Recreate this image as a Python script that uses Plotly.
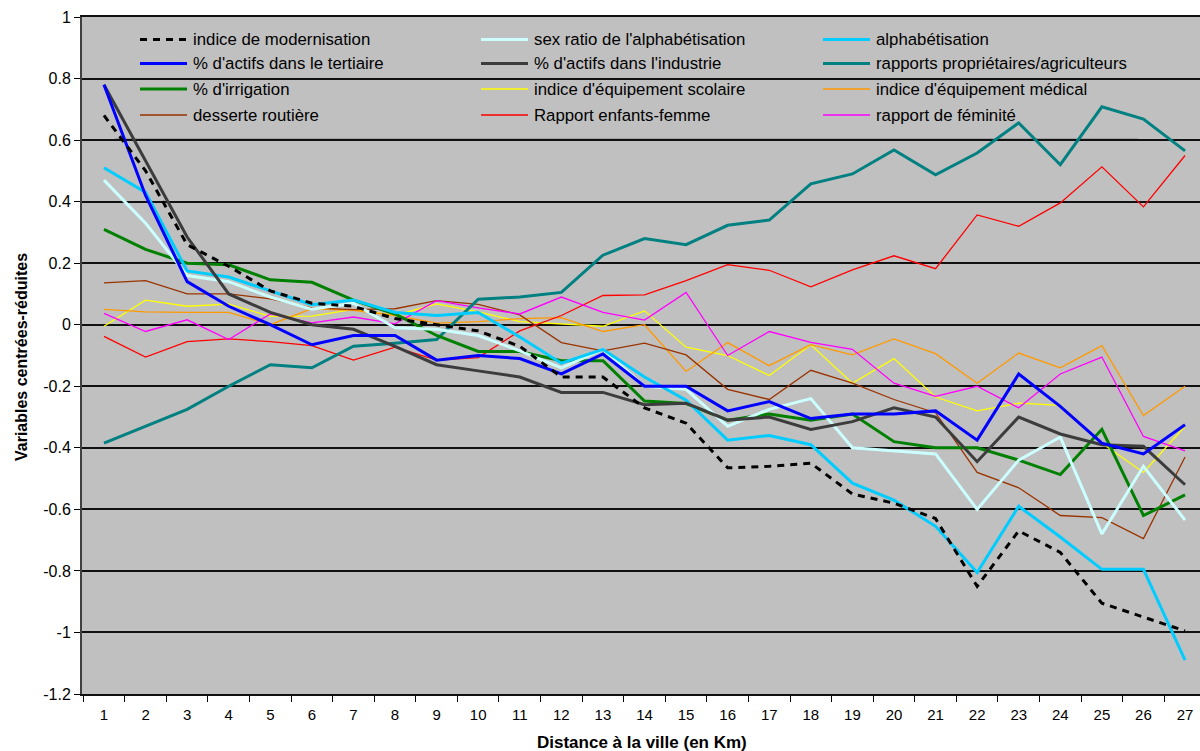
import plotly.graph_objects as go

# ---------------- data ----------------
distances = ["1", "2", "3", "4", "5", "6", "7", "8", "9", "10", "11", "12", "13", "14",
             "15", "16", "17", "18", "19", "20", "21", "22", "23", "24", "25", "26", "27"]

y_tick_values = [1, 0.8, 0.6, 0.4, 0.2, 0, -0.2, -0.4, -0.6, -0.8, -1, -1.2]
y_tick_labels = ["1", "0.8", "0.6", "0.4", "0.2", "0", "-0.2", "-0.4", "-0.6", "-0.8", "-1", "-1.2"]

modernisation = [0.68, 0.50, 0.26, 0.19, 0.11, 0.07, 0.06, 0.02, 0.0, -0.02, -0.07, -0.17, -0.17, -0.27,
                 -0.32, -0.465, -0.46, -0.45, -0.55, -0.58, -0.63, -0.85, -0.67, -0.74, -0.905, -0.95, -0.995]
sex_ratio_alpha = [0.47, 0.33, 0.16, 0.14, 0.09, 0.05, 0.07, -0.01, -0.015, -0.035, -0.085, -0.14, -0.08, -0.20,
                   -0.21, -0.33, -0.275, -0.24, -0.40, -0.41, -0.42, -0.60, -0.44, -0.365, -0.68, -0.46, -0.635]
alphabetisation = [0.51, 0.43, 0.175, 0.155, 0.11, 0.065, 0.08, 0.04, 0.03, 0.04, -0.04, -0.125, -0.08, -0.17,
                   -0.245, -0.375, -0.36, -0.39, -0.515, -0.57, -0.655, -0.805, -0.59, -0.69, -0.795, -0.795, -1.09]
tertiaire = [0.78, 0.42, 0.14, 0.06, 0.0, -0.065, -0.035, -0.035, -0.115, -0.10, -0.11, -0.16, -0.095, -0.20,
             -0.20, -0.28, -0.25, -0.305, -0.29, -0.29, -0.28, -0.375, -0.16, -0.265, -0.385, -0.42, -0.325]
industrie = [0.78, 0.53, 0.285, 0.10, 0.04, 0.0, -0.015, -0.07, -0.13, -0.15, -0.17, -0.22, -0.22, -0.26,
             -0.255, -0.31, -0.30, -0.34, -0.315, -0.27, -0.30, -0.445, -0.30, -0.355, -0.39, -0.395, -0.52]
proprietaires = [-0.385, -0.33, -0.275, -0.20, -0.13, -0.14, -0.07, -0.06, -0.048, 0.083, 0.09, 0.105, 0.226, 0.28,
                 0.26, 0.323, 0.34, 0.458, 0.49, 0.568, 0.487, 0.558, 0.656, 0.52, 0.708, 0.668, 0.565]
irrigation = [0.31, 0.245, 0.20, 0.195, 0.146, 0.138, 0.08, 0.035, -0.035, -0.087, -0.087, -0.117, -0.117, -0.248,
              -0.256, -0.31, -0.29, -0.31, -0.29, -0.38, -0.40, -0.40, -0.44, -0.487, -0.34, -0.62, -0.553]
scolaire = [-0.005, 0.08, 0.06, 0.067, 0.027, 0.028, 0.05, 0.03, 0.068, 0.042, 0.01, 0.003, -0.005, 0.045,
            -0.073, -0.10, -0.165, -0.065, -0.19, -0.11, -0.235, -0.28, -0.255, -0.262, -0.385, -0.48, -0.33]
medical = [0.05, 0.042, 0.04, 0.04, 0.0, 0.052, 0.047, 0.03, 0.005, 0.01, 0.02, 0.023, -0.022, 0.0,
           -0.152, -0.058, -0.133, -0.065, -0.098, -0.046, -0.094, -0.19, -0.092, -0.14, -0.068, -0.295, -0.20]
desserte = [0.136, 0.143, 0.10, 0.10, 0.084, 0.055, 0.049, 0.052, 0.078, 0.066, 0.032, -0.058, -0.085, -0.06,
            -0.098, -0.21, -0.243, -0.148, -0.19, -0.243, -0.286, -0.48, -0.53, -0.62, -0.627, -0.695, -0.43]
enfants_femme = [-0.038, -0.105, -0.055, -0.046, -0.055, -0.068, -0.115, -0.073, -0.115, -0.107, -0.02, 0.03, 0.095, 0.097,
                 0.143, 0.195, 0.177, 0.123, 0.178, 0.224, 0.182, 0.357, 0.32, 0.396, 0.513, 0.383, 0.55]
feminite = [0.037, -0.022, 0.016, -0.048, 0.035, 0.006, 0.025, 0.003, 0.078, 0.055, 0.035, 0.09, 0.04, 0.015,
            0.105, -0.10, -0.022, -0.057, -0.08, -0.19, -0.233, -0.20, -0.27, -0.16, -0.105, -0.363, -0.41]

# legend order (row-major, 3 columns) : name, values, colour, width, dash
series = [
    ("indice de modernisation", modernisation, "#000000", 3, "7px,6px"),
    ("sex ratio de l'alphabétisation", sex_ratio_alpha, "#CCFFFF", 3, "solid"),
    ("alphabétisation", alphabetisation, "#00CCFF", 3, "solid"),
    ("% d'actifs dans le tertiaire", tertiaire, "#0000FF", 3, "solid"),
    ("% d'actifs dans l'industrie", industrie, "#3C3C3C", 3, "solid"),
    ("rapports propriétaires/agriculteurs", proprietaires, "#008080", 3, "solid"),
    ("% d'irrigation", irrigation, "#008000", 3, "solid"),
    ("indice d'équipement scolaire", scolaire, "#FFFF00", 1.3, "solid"),
    ("indice d'équipement médical", medical, "#FF9900", 1.3, "solid"),
    ("desserte routière", desserte, "#993300", 1.3, "solid"),
    ("Rapport enfants-femme", enfants_femme, "#FF0000", 1.3, "solid"),
    ("rapport de féminité", feminite, "#FF00FF", 1.3, "solid"),
]
draw_order = [7, 8, 9, 10, 11, 5, 6, 1, 2, 4, 3, 0]

FONT = "Liberation Sans, Arial, sans-serif"

# plot area in pixels
L, R, T, B = 82, 1200, 17, 694


def px_x(p):
    return (p - L) / (R - L)


def px_y(p):
    return (B - p) / (B - T)


fig = go.Figure()
for i in draw_order:
    name, vals, color, width, dash = series[i]
    fig.add_trace(go.Scatter(x=distances, y=vals, mode="lines", name=name,
                             line=dict(color=color, width=width, dash=dash),
                             showlegend=False))

# ---------------- manual legend ----------------
shapes = []
annotations = []
shapes.append(dict(type="rect", xref="paper", yref="paper",
                   x0=px_x(115), x1=px_x(1138), y0=px_y(139), y1=px_y(17),
                   fillcolor="#C0C0C0", line=dict(width=0), layer="between"))
shapes.append(dict(type="line", xref="paper", yref="paper",
                   x0=px_x(115), x1=px_x(1138), y0=px_y(139), y1=px_y(139),
                   line=dict(color="#808080", width=1), layer="between"))
sym_x = [140, 481, 823]
txt_x = [191, 532, 874]
row_y = [39.5, 63.5, 89, 115]
for idx, (name, vals, color, width, dash) in enumerate(series):
    r, c = divmod(idx, 3)
    yy = px_y(row_y[r])
    shapes.append(dict(type="line", xref="paper", yref="paper",
                       x0=px_x(sym_x[c]), x1=px_x(sym_x[c] + 47), y0=yy, y1=yy,
                       line=dict(color=color, width=width, dash=dash), layer="between"))
    annotations.append(dict(text=name, xref="paper", yref="paper", x=px_x(txt_x[c]), y=yy,
                            xanchor="left", yanchor="middle", showarrow=False,
                            font=dict(family=FONT, size=16.8, color="#000000")))

# axis titles
annotations.append(dict(text="<b>Variables centrées-réduites</b>", xref="paper", yref="paper",
                        x=px_x(21), y=px_y(357), textangle=-90, showarrow=False,
                        xanchor="center", yanchor="middle",
                        font=dict(family=FONT, size=16, color="#000000")))
annotations.append(dict(text="<b>Distance à la ville (en Km)</b>", xref="paper", yref="paper",
                        x=px_x(642), y=px_y(742), showarrow=False,
                        xanchor="center", yanchor="middle",
                        font=dict(family=FONT, size=17, color="#000000")))

fig.update_layout(
    width=1200, height=751,
    margin=dict(l=L, r=1200 - R, t=T, b=751 - B),
    paper_bgcolor="#FFFFFF", plot_bgcolor="#C0C0C0",
    font=dict(family=FONT, size=16, color="#000000"),
    shapes=shapes, annotations=annotations,
    showlegend=False,
    xaxis=dict(type="category", categoryorder="array", categoryarray=distances,
               range=[-0.529, 26.36], tickson="boundaries", ticks="outside", ticklen=6,
               tickcolor="#000000", tickwidth=1, showgrid=False, zeroline=False,
               showline=True, linecolor="#111111", linewidth=2, mirror=True,
               tickfont=dict(family=FONT, size=15, color="#000000"), ticklabelstandoff=6),
    yaxis=dict(range=[-1.2, 1], tickmode="array", tickvals=y_tick_values, ticktext=y_tick_labels,
               ticks="outside", ticklen=6, tickcolor="#000000", tickwidth=1,
               showgrid=True, gridcolor="#111111", gridwidth=2, zeroline=False,
               showline=True, linecolor="#404040", linewidth=2,
               tickfont=dict(family=FONT, size=16, color="#000000")),
)

fig.write_html("out.html", config={"displayModeBar": False},
               post_script="document.body.style.margin='0';document.body.style.overflow='hidden';")
